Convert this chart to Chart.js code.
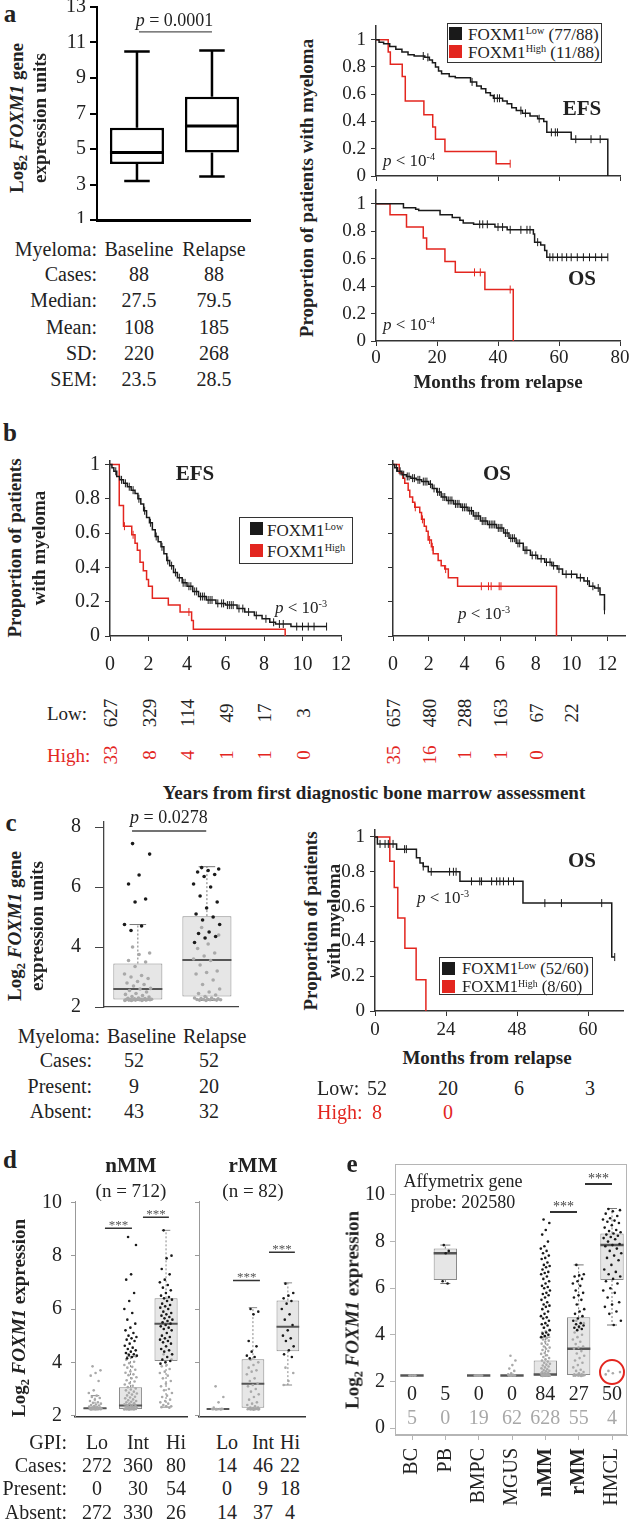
<!DOCTYPE html>
<html>
<head>
<meta charset="utf-8">
<script src="https://cdn.jsdelivr.net/npm/chart.js@4.4.1/dist/chart.umd.min.js"></script>
<style>
  html, body { margin: 0; padding: 0; background: #fff; }
  #page { position: relative; width: 634px; height: 1520px; overflow: hidden;
          font-family: "Liberation Serif", "Times New Roman", serif; color: #222; }
  .t { position: absolute; white-space: nowrap; line-height: 1; }
  sup { font-size: 0.6em; vertical-align: 0; position: relative; top: -0.55em; line-height: 0; }
  sub { font-size: 0.65em; vertical-align: 0; position: relative; top: 0.3em; line-height: 0; }
</style>
</head>
<body>
<div id="page"></div>
<script>
// ---------- data ----------

// a: box plot (min, q1, median, q3, max) and table
const aGroups = ['Baseline', 'Relapse'];
const aBox = [[3.2, 4.15, 4.8, 6.2, 10.5], [3.45, 4.8, 6.3, 7.95, 10.55]];
const aRowNames = ['Cases:', 'Median:', 'Mean:', 'SD:', 'SEM:'];
const aBaseline = ['88', '27.5', '108', '220', '23.5'];
const aRelapse = ['88', '79.5', '185', '268', '28.5'];

// a: Kaplan-Meier, months from relapse  [time, survival]
const efsALow = [[0, 1], [1, 0.98], [2.5, 0.97], [4.5, 0.95], [6.5, 0.93], [8.5, 0.91], [10.5, 0.89], [12.5, 0.88],
  [16, 0.87], [17.5, 0.85], [18.5, 0.83], [19.5, 0.8], [20.5, 0.77], [21.5, 0.75], [24, 0.73], [26, 0.72], [31, 0.69],
  [33, 0.66], [34.5, 0.64], [36, 0.61], [37.5, 0.59], [38.5, 0.57], [41.5, 0.55], [43, 0.53], [44.5, 0.5], [46, 0.48],
  [48, 0.46], [50.5, 0.44], [53, 0.42], [55, 0.4], [56, 0.32], [64, 0.27], [76, 0]];
const efsALowCens = [15.5, 17, 31.5, 38.8, 39.8, 40.5, 47.5, 49, 53.5, 57.5, 58.8, 59.5, 65.5, 70.5, 73.5];
const efsAHigh = [[0, 1], [4, 0.91], [4.7, 0.82], [8.6, 0.73], [9.6, 0.55], [15.7, 0.45], [18.6, 0.36], [19.5, 0.27],
  [22.6, 0.18], [39.4, 0.09], [44, 0.09]];
const efsAHighCens = [44];
const osALow = [[0, 1], [9, 0.97], [13, 0.96], [14, 0.95], [21, 0.92], [25, 0.9], [27.5, 0.88], [28.6, 0.86], [32, 0.85],
  [39, 0.83], [43, 0.81], [51.6, 0.78], [52, 0.72], [54, 0.7], [55.3, 0.66], [56, 0.61], [76, 0.61]];
const osALowCens = [34, 35, 36.5, 40, 41.5, 44, 47.5, 49.5, 50.5, 53, 57, 58, 59.5, 61, 62.5, 64, 66, 68, 70, 72, 74, 76];
const osAHigh = [[0, 1], [4.6, 0.92], [10, 0.83], [15.5, 0.75], [16.6, 0.67], [22.6, 0.58], [26, 0.5], [35.7, 0.375], [45, 0]];
const osAHighCens = [32.3, 34.2, 44];
const aMonthTicks = [0, 20, 40, 60, 80];
const survTicks = [0, 0.2, 0.4, 0.6, 0.8, 1];

// b: Kaplan-Meier, years from diagnosis
const efsBLow = [[0, 1], [0.1, 0.98], [0.2, 0.96], [0.35, 0.93], [0.5, 0.91], [0.7, 0.89], [0.9, 0.87], [1.1, 0.85],
  [1.3, 0.83], [1.45, 0.8], [1.6, 0.77], [1.75, 0.73], [1.9, 0.69], [2.05, 0.66], [2.2, 0.62], [2.35, 0.58], [2.5, 0.55],
  [2.65, 0.52], [2.8, 0.48], [2.95, 0.44], [3.1, 0.41], [3.3, 0.37], [3.5, 0.34], [3.75, 0.31], [4, 0.29], [4.3, 0.26],
  [4.6, 0.23], [5, 0.21], [5.5, 0.19], [6, 0.18], [6.6, 0.16], [7, 0.14], [7.5, 0.12], [7.9, 0.1], [8.3, 0.08],
  [8.6, 0.07], [9.4, 0.055], [11.25, 0.055]];
const efsBLowCens = [0.3, 0.6, 0.8, 1, 1.2, 1.5, 1.8, 2.1, 2.4, 2.7, 3, 3.2, 3.4, 3.6, 3.8, 3.9, 4.1, 4.2, 4.4, 4.5,
  4.7, 4.8, 4.9, 5.1, 5.2, 5.3, 5.6, 5.8, 5.9, 6.1, 6.2, 6.3, 6.4, 6.7, 6.9, 7.2, 7.6, 8.1, 8.5, 8.8, 9, 9.7, 10, 10.3, 10.6, 11.25];
const efsBHigh = [[0, 1], [0.48, 0.76], [0.7, 0.64], [1.13, 0.59], [1.3, 0.54], [1.42, 0.5], [1.56, 0.43], [1.73, 0.38],
  [1.9, 0.33], [2, 0.29], [2.2, 0.22], [3.03, 0.18], [3.64, 0.14], [4.24, 0.09], [4.33, 0.04], [9.1, 0]];
const efsBHighCens = [0.75, 1.2, 4.1];
const osBLow = [[0, 1], [0.1, 0.98], [0.25, 0.96], [0.5, 0.94], [0.75, 0.93], [1, 0.92], [1.3, 0.91], [1.6, 0.9],
  [2, 0.885], [2.2, 0.86], [2.45, 0.84], [2.7, 0.81], [3, 0.79], [3.4, 0.77], [3.8, 0.75], [4.2, 0.73], [4.5, 0.7],
  [4.9, 0.67], [5.3, 0.65], [5.8, 0.63], [6.2, 0.6], [6.5, 0.57], [6.9, 0.54], [7.3, 0.5], [7.7, 0.47], [8.1, 0.45],
  [8.5, 0.43], [8.9, 0.41], [9.2, 0.39], [9.5, 0.36], [10.3, 0.34], [10.7, 0.32], [11, 0.29], [11.3, 0.28],
  [11.6, 0.24], [11.85, 0.15]];
const osBLowCens = [0.2, 0.4, 0.6, 0.8, 0.9, 1.1, 1.2, 1.4, 1.5, 1.7, 1.8, 1.9, 2.1, 2.3, 2.5, 2.6, 2.8, 2.9, 3.1, 3.2,
  3.3, 3.5, 3.6, 3.7, 3.9, 4, 4.1, 4.3, 4.4, 4.6, 4.7, 4.8, 5, 5.1, 5.2, 5.4, 5.5, 5.6, 5.7, 5.9, 6, 6.1, 6.3, 6.4,
  6.6, 6.7, 6.8, 7, 7.1, 7.4, 7.5, 7.8, 8, 8.3, 8.6, 8.8, 9, 9.3, 9.7, 10, 10.5, 10.9, 11.2, 11.5, 11.85];
const osBHigh = [[0, 1], [0.35, 0.95], [0.55, 0.92], [0.66, 0.89], [0.85, 0.85], [0.94, 0.81], [1.1, 0.78], [1.22, 0.75],
  [1.5, 0.72], [1.6, 0.68], [1.75, 0.64], [1.87, 0.61], [1.97, 0.56], [2.15, 0.52], [2.25, 0.48], [2.53, 0.44],
  [2.7, 0.41], [2.9, 0.39], [3.1, 0.34], [3.62, 0.29], [9.16, 0]];
const osBHighCens = [1.25, 1.65, 2.05, 2.2, 2.95, 4.95, 5.35, 5.5, 5.95, 6.05];
const bYearTicks = [0, 2, 4, 6, 8, 10, 12];
const bEfsRiskLow = ['627', '329', '114', '49', '17', '3'];
const bEfsRiskHigh = ['33', '8', '4', '1', '1', '0'];
const bOsRiskLow = ['657', '480', '288', '163', '67', '22'];
const bOsRiskHigh = ['35', '16', '1', '1', '0'];

// c: box plot with individual values, table, OS curve
const cBox = [[2.22, 2.25, 2.6, 3.45, 4.75], [2.22, 2.35, 3.57, 5.03, 6.68]];
const cBasePresent = [7.45, 7.1, 6.4, 6.1, 5.6, 5.5, 4.75, 4.7, 4.55];
const cBaseAbsent = [4.0, 3.8, 3.75, 3.55, 3.5, 3.35, 3.1, 3.05, 3.0, 2.95, 2.85, 2.8, 2.75, 2.7, 2.62, 2.6, 2.55,
  2.5, 2.45, 2.42, 2.38, 2.35, 2.33, 2.3, 2.29, 2.28, 2.27, 2.26, 2.26, 2.25, 2.25, 2.25, 2.25, 2.25, 2.24, 2.24,
  2.24, 2.23, 2.23, 2.23, 2.22, 2.22, 2.22];
const cRelPresent = [6.65, 6.6, 6.55, 6.5, 6.42, 6.35, 6.1, 6.0, 5.7, 5.5, 5.3, 5.1, 5.0, 4.9, 4.75, 4.5, 4.45, 4.35, 4.3, 4.15];
const cRelAbsent = [4.65, 4.4, 4.1, 3.95, 3.8, 3.7, 3.6, 3.55, 3.4, 3.2, 3.15, 3.1, 2.9, 2.75, 2.6, 2.5, 2.45, 2.4,
  2.35, 2.3, 2.3, 2.28, 2.27, 2.26, 2.25, 2.25, 2.25, 2.24, 2.24, 2.23, 2.23, 2.22];
const cRowNames = ['Cases:', 'Present:', 'Absent:'];
const cBaseline = ['52', '9', '43'];
const cRelapse = ['52', '20', '32'];
const osCLow = [[0, 1], [0.8, 0.96], [7.3, 0.93], [14, 0.88], [15.2, 0.85], [16.3, 0.83], [18, 0.8], [28.7, 0.745],
  [50, 0.62], [80, 0.31], [81, 0.31]];
const osCLowCens = [1.7, 3.4, 4.5, 6.1, 10, 10.6, 16.3, 19, 25.2, 26.5, 27.4, 32.6, 35.4, 36, 39.4, 41.1, 42.2, 43.4,
  45.1, 46.8, 57.4, 63, 76.6, 81];
const osCHigh = [[0, 1], [5, 0.86], [6.5, 0.71], [7.7, 0.535], [10.1, 0.36], [13.9, 0.18], [17.2, 0]];
const cMonthTicks = [0, 24, 48, 72];
const cMonthLabels = ['0', '24', '48', '60'];
const cRiskLow = ['52', '20', '6', '3'];
const cRiskHigh = ['8', '0'];

// d: GPI groups in nMM and rMM
const dGroups = ['Lo', 'Int', 'Hi'];
const dNBox = [[2.22, 2.25, 2.28, 2.3, 2.75], [2.22, 2.25, 2.38, 3.07, 4.22], [2.32, 4.05, 5.45, 6.4, 8.95]];
const dRBox = [[2.25, 2.25, 2.25, 2.25, 2.25], [2.27, 2.3, 3.2, 4.12, 6.05], [3.15, 4.42, 5.33, 6.32, 6.98]];
const dNLoAbsent = [3.85, 3.7, 3.6, 3.5, 3.3, 2.95, 2.85, 2.75, 2.7, 2.66, 2.6, 2.55, 2.5, 2.48, 2.45, 2.42, 2.4,
  2.38, 2.36, 2.34, 2.32, 2.31, 2.3, 2.3, 2.29, 2.28, 2.28, 2.27, 2.27, 2.26, 2.26, 2.25, 2.25, 2.25, 2.25, 2.24, 2.24, 2.23];
const dNIntPresent = [8.7, 8.4, 7.3, 7.1, 6.6, 6.3, 6.0, 5.85, 5.6, 5.45, 5.3, 5.2, 5.1, 5.0, 4.95, 4.9, 4.85, 4.8,
  4.7, 4.62, 4.55, 4.5, 4.45, 4.4, 4.35, 4.3, 4.28, 4.25, 4.2, 4.15];
const dNIntAbsent = [4.3, 4.22, 4.18, 4.1, 4.02, 3.97, 3.9, 3.83, 3.8, 3.72, 3.66, 3.61, 3.55, 3.52, 3.44, 3.4, 3.33,
  3.28, 3.22, 3.17, 3.12, 3.07, 3.02, 2.98, 2.95, 2.9, 2.86, 2.83, 2.79, 2.76, 2.71, 2.68, 2.65, 2.61, 2.58, 2.55,
  2.52, 2.5, 2.47, 2.45, 2.43, 2.41, 2.39, 2.37, 2.35, 2.34, 2.32, 2.31, 2.3, 2.29, 2.28, 2.27, 2.27, 2.26, 2.26,
  2.25, 2.25, 2.25, 2.24, 2.24, 2.23, 2.23];
const dNHiPresent = [8.95, 8.0, 7.9, 7.5, 7.3, 7.1, 7.0, 6.9, 6.8, 6.7, 6.6, 6.5, 6.45, 6.4, 6.35, 6.3, 6.2, 6.15,
  6.1, 6.05, 6.0, 5.9, 5.85, 5.8, 5.75, 5.7, 5.65, 5.6, 5.55, 5.5, 5.45, 5.4, 5.35, 5.3, 5.25, 5.2, 5.1, 5.0, 4.95,
  4.9, 4.85, 4.8, 4.75, 4.7, 4.6, 4.5, 4.45, 4.4, 4.3, 4.2, 4.1, 4.05, 4.0, 3.95];
const dNHiAbsent = [4.3, 4.1, 3.9, 3.85, 3.75, 3.65, 3.6, 3.5, 3.4, 3.3, 3.2, 3.1, 3.0, 2.95, 2.85, 2.75, 2.7, 2.6,
  2.55, 2.5, 2.45, 2.4, 2.35, 2.35, 2.32, 2.3];
const dRLoAbsent = [3.1, 2.7, 2.5, 2.3, 2.26, 2.25, 2.25, 2.25, 2.25, 2.25, 2.24, 2.24, 2.23, 2.23];
const dRIntPresent = [6.0, 5.9, 5.8, 4.8, 4.6, 4.4, 4.25, 4.2, 4.15];
const dRIntAbsent = [4.1, 4.0, 3.9, 3.8, 3.7, 3.65, 3.55, 3.4, 3.3, 3.2, 3.15, 3.1, 3.0, 2.9, 2.8, 2.7, 2.6, 2.5,
  2.45, 2.4, 2.35, 2.3, 2.3, 2.28, 2.27, 2.26, 2.26, 2.25, 2.25, 2.25, 2.25, 2.24, 2.24, 2.24, 2.23, 2.23, 2.22];
const dRHiPresent = [6.95, 6.6, 6.5, 6.4, 6.3, 6.2, 6.0, 5.8, 5.6, 5.4, 5.2, 5.0, 4.9, 4.8, 4.6, 4.45, 4.3, 4.2];
const dRHiAbsent = [3.8, 3.6, 3.3, 3.15];
const dTableRows = ['GPI:', 'Cases:', 'Present:', 'Absent:'];
const dGPI = ['Lo', 'Int', 'Hi', 'Lo', 'Int', 'Hi'];
const dCases = ['272', '360', '80', '14', '46', '22'];
const dPresent = ['0', '30', '54', '0', '9', '18'];
const dAbsent = ['272', '330', '26', '14', '37', '4'];

// e: Affymetrix probe 202580 across cell populations
const eCats = ['BC', 'PB', 'BMPC', 'MGUS', 'nMM', 'rMM', 'HMCL'];
const eBoldCats = ['nMM', 'rMM'];
const eBox = [[2.25, 2.25, 2.25, 2.25, 2.25], [6.2, 6.35, 7.5, 7.7, 7.85], [2.25, 2.25, 2.25, 2.25, 2.25],
  [2.25, 2.25, 2.25, 2.25, 2.25], [2.22, 2.25, 2.3, 2.9, 3.9], [2.25, 2.27, 3.4, 4.75, 7.0], [4.42, 6.35, 7.85, 8.35, 9.42]];
const ePresent = [
  [],
  [7.85, 7.6, 7.5, 6.3, 6.2],
  [],
  [],
  [8.95, 8.8, 8.5, 8.3, 8.0, 7.8, 7.7, 7.6, 7.5, 7.4, 7.3, 7.25, 7.1, 7.0, 6.95, 6.9, 6.8, 6.7, 6.65, 6.6, 6.5, 6.4,
   6.3, 6.2, 6.1, 6.05, 6.0, 5.9, 5.8, 5.75, 5.7, 5.6, 5.5, 5.4, 5.3, 5.25, 5.2, 5.1, 5.0, 4.9, 4.8, 4.75, 4.7, 4.6,
   4.5, 4.45, 4.4, 4.3, 4.2, 4.1, 4.05, 4.0, 3.95, 3.9],
  [7.0, 6.6, 6.55, 6.5, 6.4, 6.3, 6.2, 6.1, 5.9, 5.8, 5.7, 5.6, 5.5, 5.3, 5.1, 5.0, 4.9, 4.8, 4.7, 4.6, 4.5, 4.45,
   4.4, 4.35, 4.3, 4.25, 4.2],
  [9.4, 9.35, 9.3, 9.2, 9.1, 9.0, 8.95, 8.9, 8.85, 8.8, 8.7, 8.6, 8.5, 8.45, 8.4, 8.35, 8.3, 8.25, 8.2, 8.15, 8.1,
   8.0, 7.9, 7.85, 7.8, 7.7, 7.6, 7.5, 7.4, 7.3, 7.2, 7.0, 6.8, 6.7, 6.6, 6.5, 6.4, 6.3, 6.2, 6.0, 5.9, 5.8, 5.6,
   5.4, 5.3, 5.2, 5.0, 4.9, 4.6, 4.42]
];
const eAbsent = [
  [2.25, 2.25, 2.25, 2.25, 2.25],
  [],
  [2.25, 2.25, 2.25, 2.25, 2.25, 2.25, 2.25, 2.25],
  [3.1, 2.9, 2.7, 2.55, 2.45, 2.35, 2.3, 2.28, 2.26, 2.25, 2.25, 2.25, 2.25, 2.25],
  [4.3, 4.2, 4.15, 4.1, 4.0, 3.95, 3.9, 3.85, 3.8, 3.75, 3.7, 3.62, 3.58, 3.5, 3.45, 3.4, 3.35, 3.3, 3.22, 3.18,
   3.12, 3.05, 3.0, 2.95, 2.9, 2.85, 2.8, 2.76, 2.72, 2.68, 2.64, 2.6, 2.56, 2.52, 2.49, 2.46, 2.43, 2.4, 2.38, 2.36,
   2.34, 2.32, 2.3, 2.29, 2.28, 2.27, 2.26, 2.25, 2.25, 2.24, 2.23],
  [4.6, 4.5, 4.3, 4.1, 4.0, 3.9, 3.8, 3.7, 3.6, 3.5, 3.45, 3.4, 3.3, 3.2, 3.1, 3.0, 2.9, 2.8, 2.7, 2.6, 2.5, 2.45,
   2.4, 2.35, 2.3, 2.3, 2.28, 2.27, 2.26, 2.25, 2.25, 2.25, 2.24, 2.23],
  [2.45, 2.4, 2.35, 2.3]
];
const eCountPresent = ['0', '5', '0', '0', '84', '27', '50'];
const eCountAbsent = ['5', '0', '19', '62', '628', '55', '4'];

// ---------- drawing ----------
const page = document.getElementById('page');
const SERIF = '"Liberation Serif", "Times New Roman", serif';
const BLACK = '#1a1a1a', RED = '#e3261f', GRAY = '#a9a9a9';
Chart.defaults.font.family = SERIF;
Chart.defaults.color = '#222';
Chart.defaults.animation = false;

// deterministic horizontal spread for the dot strips
const jit = i => (((i + 0.5) * 0.6180339887) % 1) * 2 - 1;

function T(html, x, y, size, anchor, extra) {
  const d = document.createElement('div');
  d.className = 't';
  d.innerHTML = html;
  const tx = anchor === 'r' ? '-100%' : anchor === 'l' ? '0' : '-50%';
  d.style.cssText = 'left:' + x + 'px;top:' + y + 'px;font-size:' + size + 'px;transform:translate(' + tx + ',-50%);' + (extra || '');
  page.appendChild(d);
}
// rotated (reads bottom to top)
function V(html, x, y, size, extra) {
  T(html, x, y, size, 'c', 'transform:translate(-50%,-50%) rotate(-90deg);' + (extra || ''));
}
function rect(x, y, w, h, css) {
  const d = document.createElement('div');
  d.style.cssText = 'position:absolute;left:' + x + 'px;top:' + y + 'px;width:' + w + 'px;height:' + h + 'px;' + css;
  page.appendChild(d);
}
const B = 'font-weight:bold;';

function axis(min, max, ticks, o) {
  o = o || {};
  return {
    type: 'linear', min: min, max: max, offset: false,
    afterBuildTicks: s => { s.ticks = ticks.map(v => ({value: v})); },
    ticks: {
      display: o.labels !== false, autoSkip: false, color: '#222',
      font: o.font || {size: o.size || 18},
      padding: o.pad == null ? 4 : o.pad,
      maxRotation: o.rot || 0, minRotation: o.rot || 0,
      callback: o.fmt || (v => String(v))
    },
    grid: {display: !!o.tick, offset: false, drawOnChartArea: false, drawTicks: !!o.tick, tickLength: o.tick || 0,
           color: o.tickColor || o.color || '#333', lineWidth: o.tw || 1},
    border: {display: true, color: o.color || '#333', width: o.bw || 1.5}
  };
}

// fixed axis sizes, no extra room for overhanging tick labels
function fixScale(s, key, size) {
  s[key] = size;
  s.paddingTop = s.paddingBottom = s.paddingLeft = s.paddingRight = 0;
}

// box = [left, top, right, bottom] of the plot area on the page
function plot(box, yW, xH, padT, padR, xs, ys, datasets, plugins) {
  const w = Math.round(box[2] - box[0] + yW + padR), h = Math.round(box[3] - box[1] + padT + xH);
  const cx = box[0] - yW, cy = box[1] - padT;
  const c = document.createElement('canvas');
  c.width = w; c.height = h;
  c.style.cssText = 'position:absolute;left:' + cx + 'px;top:' + cy + 'px;width:' + w + 'px;height:' + h + 'px';
  page.appendChild(c);
  xs.afterFit = s => fixScale(s, 'height', xH);
  ys.afterFit = s => fixScale(s, 'width', yW);
  const ch = new Chart(c, {
    type: 'scatter',
    data: {datasets: datasets},
    options: {
      responsive: false, animation: false, devicePixelRatio: 1,
      layout: {autoPadding: false, padding: {top: padT, right: padR, left: 0, bottom: 0}},
      plugins: {legend: {display: false}, tooltip: {enabled: false}},
      scales: {x: xs, y: ys}
    },
    plugins: plugins || []
  });
  ch.at = (x, y) => [cx + ch.scales.x.getPixelForValue(x), cy + ch.scales.y.getPixelForValue(y)];
  return ch;
}

function segs(list, color, width, dash, order) {
  const data = [];
  list.forEach(s => data.push({x: s[0], y: s[1]}, {x: s[2], y: s[3]}, {x: null, y: null}));
  return {data: data, showLine: true, spanGaps: false, borderColor: color, borderWidth: width,
          borderDash: dash || [], pointRadius: 0, clip: false, order: order || 3};
}
function boxSet(stats, o) {
  const med = [], wh = [], cap = [];
  stats.forEach((s, i) => {
    const x = i + 1;
    med.push([x - o.w / 2, s[2], x + o.w / 2, s[2]]);
    wh.push([x, s[3], x, s[4]], [x, s[1], x, s[0]]);
    cap.push([x - o.cap, s[4], x + o.cap, s[4]], [x - o.cap, s[0], x + o.cap, s[0]]);
  });
  return [
    segs(med, o.med, o.medW, [], 2),
    segs(cap, o.wh, o.capW || o.whW, [], 3),
    segs(wh, o.wh, o.whW, o.dash, 4),
    {type: 'bar', data: stats.map((s, i) => ({x: i + 1, y: [s[1], s[3]]})), backgroundColor: o.fill,
     borderColor: o.stroke, borderWidth: o.bw, borderSkipped: false, barPercentage: o.w, categoryPercentage: 1, order: 5}
  ];
}
function dots(vals, xc, spread, color, r) {
  return {data: vals.map((v, i) => ({x: xc + spread * jit(i), y: v})), pointRadius: r || 1.5,
          pointBackgroundColor: color, pointBorderWidth: 0, showLine: false, clip: false, order: 1};
}
function survAt(pts, t) { let s = pts[0][1]; pts.forEach(p => { if (p[0] <= t) s = p[1]; }); return s; }
function stepLine(pts, color) {
  return {data: pts.map(p => ({x: p[0], y: p[1]})), showLine: true, stepped: true, borderColor: color,
          borderWidth: 1.5, pointRadius: 0, clip: false, order: 2};
}
function censor(times, pts, color) {
  return {data: times.map(t => ({x: t, y: survAt(pts, t)})), pointStyle: 'line', rotation: 90, pointRadius: 4,
          pointBorderColor: color, pointBorderWidth: 1, showLine: false, clip: false, order: 1};
}
function km(low, lowC, high, highC) {
  return [stepLine(low, BLACK), stepLine(high, RED), censor(lowC, low, BLACK), censor(highC, high, RED)];
}
const frame = {
  id: 'frame',
  beforeDatasetsDraw(chart) {
    const a = chart.chartArea, ctx = chart.ctx;
    ctx.save(); ctx.strokeStyle = '#b5b5b5'; ctx.lineWidth = 1;
    ctx.strokeRect(a.left + 0.5, a.top + 0.5, a.right - a.left - 1, a.bottom - a.top - 1);
    ctx.restore();
  }
};

// ===== panel a, box plot =====
const chA = plot([97, 7, 250, 220], 50, 3, 10, 4,
  axis(0.467, 2.507, [1, 2], {labels: false, bw: 3, color: '#000'}),
  axis(1, 13, [1, 3, 5, 7, 9, 11, 13], {size: 20, tick: 7, pad: 4, bw: 2, tw: 2, color: '#000'}),
  boxSet(aBox, {w: 0.72, cap: 0.17, fill: '#fff', stroke: '#000', bw: 2.5, med: '#000', medW: 3, wh: '#000', whW: 2.5})
    .concat([segs([[1.027, 11.6, 2.0, 11.6]], '#555', 1.2)]));
T('<b>a</b>', 10, 13, 25);
let p = chA.at(1.5, 11.6);
T('<i>p</i> = 0.0001', p[0], p[1] - 12, 18);
V('Log<sub>2</sub> <i>FOXM1</i> gene', 16, 118, 19, B);
V('expression units', 39, 118, 19, B);
T('Myeloma:', 97, 249, 20, 'r');
aGroups.forEach((g, i) => T(g, chA.at(i + 1, 1)[0] + 2, 249, 20));
aRowNames.forEach((n, r) => {
  const y = 274 + r * 26.3;
  T(n, 97, y, 20, 'r');
  T(aBaseline[r], chA.at(1, 1)[0] + 2, y, 20);
  T(aRelapse[r], chA.at(2, 1)[0] + 2, y, 20);
});

// ===== panel a, KM EFS / OS =====
const chAE = plot([376, 26, 620, 176], 50, 6, 10, 12,
  axis(0, 80, aMonthTicks, {labels: false, tick: 5}),
  axis(0, 1.1, survTicks, {size: 19, tick: 5, pad: 5}),
  km(efsALow, efsALowCens, efsAHigh, efsAHighCens));
const chAO = plot([376, 190.3, 620, 341], 50, 30, 4, 12,
  axis(0, 80, aMonthTicks, {size: 19, tick: 5, pad: 1}),
  axis(0, 1.1, survTicks, {size: 19, tick: 5, pad: 5}),
  km(osALow, osALowCens, osAHigh, osAHighCens));
rect(447, 23, 155, 40, 'border:1px solid #333;background:#fff;box-sizing:border-box;');
rect(449, 27, 13, 13, 'background:' + BLACK);
rect(449, 45, 13, 13, 'background:' + RED);
T('FOXM1<sup>Low</sup> (77/88)', 468, 34, 17, 'l');
T('FOXM1<sup>High</sup> (11/88)', 468, 52, 17, 'l');
T('EFS', 582, 108, 21, 'c', B);
T('OS', 582, 278, 21, 'c', B);
T('<i>p</i> &lt; 10<sup>-4</sup>', 383, 160, 17, 'l');
T('<i>p</i> &lt; 10<sup>-4</sup>', 383, 324, 17, 'l');
V('Proportion of patients with myeloma', 306, 188, 19, B);
T('Months from relapse', 498, 381, 19, 'c', B);

// ===== panel b =====
const chBE = plot([110, 460.6, 341, 636], 60, 41, 10, 16,
  axis(0, 12, bYearTicks, {size: 20, tick: 5, pad: 12}),
  axis(0, 1.02, survTicks, {size: 20, tick: 5, pad: 5}),
  km(efsBLow, efsBLowCens, efsBHigh, efsBHighCens));
const chBO = plot([393, 460.6, 625, 636], 20, 41, 10, 6,
  axis(0, 13, bYearTicks, {size: 20, tick: 5, pad: 12}),
  axis(0, 1.02, survTicks, {labels: false, tick: 5}),
  km(osBLow, osBLowCens, osBHigh, osBHighCens));
T('<b>b</b>', 10, 432, 25);
V('Proportion of patients', 14, 548, 19, B);
V('with myeloma', 38, 548, 19, B);
T('EFS', 195, 473, 21, 'c', B);
T('OS', 497, 473, 21, 'c', B);
rect(239, 517, 114, 47, 'border:1px solid #333;background:#fff;box-sizing:border-box;');
rect(250, 522, 13, 13, 'background:' + BLACK);
rect(250, 544, 13, 13, 'background:' + RED);
T('FOXM1<sup>Low</sup>', 267, 530, 17, 'l');
T('FOXM1<sup>High</sup>', 267, 551, 17, 'l');
T('<i>p</i> &lt; 10<sup>-3</sup>', 275, 607, 17, 'l');
T('<i>p</i> &lt; 10<sup>-3</sup>', 458, 613, 17, 'l');
T('Low:', 47, 713, 19, 'l');
T('High:', 47, 755, 19, 'l', 'color:' + RED);
bEfsRiskLow.forEach((n, i) => V(n, chBE.at(bYearTicks[i], 0)[0], 713, 19));
bEfsRiskHigh.forEach((n, i) => V(n, chBE.at(bYearTicks[i], 0)[0], 755, 19, 'color:' + RED));
bOsRiskLow.forEach((n, i) => V(n, chBO.at(bYearTicks[i], 0)[0], 713, 19));
bOsRiskHigh.forEach((n, i) => V(n, chBO.at(bYearTicks[i], 0)[0], 755, 19, 'color:' + RED));
T('Years from first diagnostic bone marrow assessment', 374, 792, 19, 'c', B);

// ===== panel c, box plot with values =====
const chC = plot([104, 822, 238, 1007], 54, 6, 10, 4,
  axis(0.51, 2.45, [1, 2], {labels: false, color: '#444', bw: 1.3}),
  axis(2, 8.17, [2, 4, 6, 8], {size: 20, tick: 9, pad: 14, color: '#444', bw: 1.3}),
  boxSet(cBox, {w: 0.71, cap: 0.12, fill: '#e6e6e6', stroke: '#8a8a8a', bw: 1, med: '#555', medW: 2,
                wh: '#777', whW: 1, dash: [2, 2]})
    .concat([
      dots(cBasePresent, 1, 0.2, BLACK, 1.8), dots(cBaseAbsent, 1, 0.2, GRAY, 1.8),
      dots(cRelPresent, 2, 0.2, BLACK, 1.8), dots(cRelAbsent, 2, 0.2, GRAY, 1.8),
      segs([[0.916, 7.87, 1.99, 7.87]], '#444', 1.5)
    ]));
T('<b>c</b>', 11, 822, 25);
p = chC.at(1.45, 7.87);
T('<i>p</i> = 0.0278', p[0], p[1] - 14, 18);
V('Log<sub>2</sub> <i>FOXM1</i> gene', 14, 926, 19, B);
V('expression units', 36, 926, 19, B);
T('Myeloma:', 100, 1036, 20, 'r');
T(aGroups[0], 107, 1036, 20, 'l');
T(aGroups[1], 183, 1036, 20, 'l');
cRowNames.forEach((n, r) => {
  const y = 1060 + r * 25.5;
  T(n, 92, y, 20, 'r');
  T(cBaseline[r], 134, y, 20);
  T(cRelapse[r], 209, y, 20);
});

// ===== panel c, KM OS =====
const chCK = plot([375, 830, 623, 1011], 45, 30, 10, 8,
  axis(0, 83.8, cMonthTicks, {size: 19, tick: 5, pad: 3, fmt: v => cMonthLabels[cMonthTicks.indexOf(v)]}),
  axis(0, 1.04, survTicks, {size: 19, tick: 5, pad: 5}),
  km(osCLow, osCLowCens, osCHigh, []));
T('OS', 582, 860, 21, 'c', B);
T('<i>p</i> &lt; 10<sup>-3</sup>', 417, 897, 17, 'l');
rect(439, 957, 154, 38, 'border:1px solid #333;background:#fff;box-sizing:border-box;');
rect(442, 962, 13, 13, 'background:' + BLACK);
rect(442, 980, 13, 13, 'background:' + RED);
T('FOXM1<sup>Low</sup> (52/60)', 462, 969, 16.5, 'l');
T('FOXM1<sup>High</sup> (8/60)', 462, 987, 16.5, 'l');
V('Proportion of patients', 310, 921, 19, B);
V('with myeloma', 333, 921, 19, B);
T('Months from relapse', 487, 1057, 19, 'c', B);
T('Low:', 317, 1088, 20, 'l');
T('High:', 317, 1112, 20, 'l', 'color:' + RED);
cRiskLow.forEach((n, i) => T(n, chCK.at(cMonthTicks[i], 0)[0] + 2, 1088, 20));
cRiskHigh.forEach((n, i) => T(n, chCK.at(cMonthTicks[i], 0)[0] + 2, 1112, 20, 'c', 'color:' + RED));

// ===== panel d =====
const dOpts = {w: 0.65, cap: 0.12, fill: '#e6e6e6', stroke: '#8a8a8a', bw: 1, med: '#555', medW: 2, wh: '#888', whW: 1, dash: [2, 2]};
const chDN = plot([75, 1200.7, 187, 1416.3], 50, 4, 12, 2,
  axis(0.437, 3.59, [1, 2, 3], {labels: false, color: '#333', bw: 1.5}),
  axis(1.95, 10.05, [2, 4, 6, 8, 10], {size: 20, tick: 4, pad: 9, color: '#999', bw: 1}),
  boxSet(dNBox, dOpts).concat([
    dots(dNLoAbsent, 1, 0.18, GRAY, 1.3),
    dots(dNIntPresent, 2, 0.18, BLACK, 1.3), dots(dNIntAbsent, 2, 0.18, GRAY, 1.3),
    dots(dNHiPresent, 3, 0.18, BLACK, 1.3), dots(dNHiAbsent, 3, 0.18, GRAY, 1.3),
    segs([[1.28, 9.03, 2.04, 9.03], [2.35, 9.44, 3.08, 9.44]], '#333', 1.5)
  ]));
const chDR = plot([199, 1200.7, 305, 1416.3], 10, 4, 12, 2,
  axis(0.457, 3.49, [1, 2, 3], {labels: false, color: '#333', bw: 1.5}),
  axis(1.95, 10.05, [2, 4, 6, 8, 10], {labels: false, tick: 4, color: '#999', bw: 1}),
  boxSet(dRBox, dOpts).concat([
    dots(dRLoAbsent, 1, 0.18, GRAY, 1.3),
    dots(dRIntPresent, 2, 0.18, BLACK, 1.3), dots(dRIntAbsent, 2, 0.18, GRAY, 1.3),
    dots(dRHiPresent, 3, 0.18, BLACK, 1.3), dots(dRHiAbsent, 3, 0.18, GRAY, 1.3),
    segs([[1.43, 7.07, 2.2, 7.07], [2.46, 8.13, 3.2, 8.13]], '#333', 1.5)
  ]));
[[chDN, 1.66, 9.03], [chDN, 2.72, 9.44], [chDR, 1.82, 7.07], [chDR, 2.83, 8.13]].forEach(s => {
  const q = s[0].at(s[1], s[2]);
  T('***', q[0], q[1] - 4, 13, 'c', 'color:#555');
});
T('<b>d</b>', 10, 1159, 25);
T('nMM', 131, 1165, 21, 'c', B);
T('(n = 712)', 131, 1190, 19);
T('rMM', 253, 1165, 21, 'c', B);
T('(n = 82)', 253, 1190, 19);
V('Log<sub>2</sub> <i>FOXM1</i> expression', 18, 1318, 19, B);
const dColX = [97, 138, 176, 227, 263, 290];
[dGPI, dCases, dPresent, dAbsent].forEach((row, r) => {
  const y = 1442 + r * 23.2;
  T(dTableRows[r], 67, y, 20, 'r');
  row.forEach((v, i) => T(v, dColX[i], y, 20));
});

// ===== panel e =====
const eSpread = [0.12, 0.12, 0.12, 0.12, 0.14, 0.18, 0.28];
const eDots = [];
eCats.forEach((c, i) => {
  if (ePresent[i].length) eDots.push(dots(ePresent[i], i + 1, eSpread[i], BLACK, 1.3));
  if (eAbsent[i].length) eDots.push(dots(eAbsent[i], i + 1, eSpread[i], GRAY, 1.3));
});
const chE = plot([395, 1164, 627, 1435], 50, 85, 4, 4,
  axis(0.49, 7.45, [1, 2, 3, 4, 5, 6, 7], {tick: 5, pad: 8, rot: 90, color: '#b5b5b5', bw: 1,
    fmt: v => eCats[v - 1],
    font: ctx => ({size: 20, weight: ctx.tick && eBoldCats.includes(eCats[ctx.tick.value - 1]) ? 'bold' : 'normal'})}),
  axis(-0.3, 11.33, [0, 2, 4, 6, 8, 10], {size: 20, tick: 5, pad: 5, color: '#b5b5b5', bw: 1}),
  boxSet(eBox, {w: 0.7, cap: 0.15, fill: '#e6e6e6', stroke: '#8a8a8a', bw: 1, med: '#555', medW: 2.5,
                wh: '#777', whW: 1, dash: [2, 2]})
    .concat(eDots)
    .concat([
      segs([[5.14, 9.27, 5.95, 9.27], [6.19, 10.47, 7.0, 10.47]], '#333', 2),
      {data: [{x: 7, y: 2.4}], pointRadius: 12, pointBorderColor: RED, pointBorderWidth: 2,
       pointBackgroundColor: 'rgba(0,0,0,0)', showLine: false, clip: false, order: 0}
    ]),
  [frame]);
[[5.545, 9.27], [6.595, 10.47]].forEach(s => {
  const q = chE.at(s[0], s[1]);
  T('***', q[0], q[1] - 5, 14, 'c', 'color:#444');
});
T('<b>e</b>', 352, 1163, 25);
T('Affymetrix gene', 463, 1181, 18);
T('probe: 202580', 463, 1202, 18);
eCats.forEach((c, i) => {
  const x = chE.at(i + 1, 0)[0];
  T(eCountPresent[i], x, 1393, 20);
  T(eCountAbsent[i], x, 1417, 20, 'c', 'color:#a8a8a8');
});
V('Log<sub>2</sub> <i>FOXM1</i> expression', 352, 1310, 19, B);
</script>
</body>
</html>
